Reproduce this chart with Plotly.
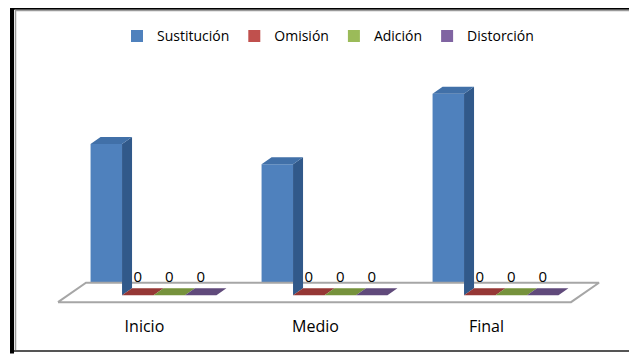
import plotly.graph_objects as go

# ---------------- data ----------------
categories = ["Inicio", "Medio", "Final"]
series_names = ["Sustitución", "Omisión", "Adición", "Distorción"]
sustitucion = [15, 13, 20]
omision = [0, 0, 0]
adicion = [0, 0, 0]
distorcion = [0, 0, 0]
series_values = [sustitucion, omision, adicion, distorcion]
show_labels = [False, True, True, True]

# ---------------- style ----------------
front_colors = ["#4F81BD", "#C0504D", "#9BBB59", "#8064A2"]
top_colors = ["#4170A8", "#953735", "#76923C", "#604A7B"]
side_colors = ["#31598A", "#7A2E2C", "#5E7530", "#4C3B62"]
FONT = "Open Sans"

W = 0.184                # bar width (x units)
DX, DY = 0.0585, 0.686   # 3-D depth offset (x units, y units)
LABEL_PAD = 0.3          # extra lift of data labels (y units)

# page body has an 8px margin -> figure is shifted by 8px
OFF = 8
W_PX, H_PX = 637 - OFF, 354 - OFF
# plot area in reference-screen pixels: x 20..617, y 60..315
PL, PR, PT, PB = 20, 617, 60, 315
ML, MR, MT, MB = PL - OFF, 637 - PR, PT - OFF, 354 - PB
PW = PR - PL
PH = PB - PT

def fx(px):
    return (px - PL) / PW

def fy(py):
    return (PB - py) / PH

cat_pos = list(range(len(categories)))
fig = go.Figure()

# floor (parallelogram)
L = cat_pos[0] - 0.5
R = cat_pos[-1] + 0.5
floor_x = [L - DX, R - DX, R + 1.8 * DX, L + 1.8 * DX, L - DX]
floor_y = [-DY, -DY, 1.8 * DY, 1.8 * DY, -DY]
fig.add_trace(go.Scatter(x=floor_x, y=floor_y, mode="lines", fill="toself",
                         fillcolor="white", line=dict(color="#A6A6A6", width=2),
                         hoverinfo="skip", showlegend=False))

# top & side faces
for s, vals in enumerate(series_values):
    tx, ty, sx, sy = [], [], [], []
    for c, v in zip(cat_pos, vals):
        x0 = c + (s - 2) * W
        x1 = x0 + W
        tx += [x0, x1, x1 + DX, x0 + DX, x0, None]
        ty += [v, v, v + DY, v + DY, v, None]
        if v > 0:
            sx += [x1, x1, x1 + DX, x1 + DX, x1, None]
            sy += [0, v, v + DY, DY, 0, None]
    if sx:
        fig.add_trace(go.Scatter(x=sx, y=sy, mode="lines", fill="toself",
                                 fillcolor=side_colors[s], line=dict(width=0),
                                 hoverinfo="skip", showlegend=False))
    fig.add_trace(go.Scatter(x=tx, y=ty, mode="lines", fill="toself",
                             fillcolor=top_colors[s], line=dict(width=0),
                             hoverinfo="skip", showlegend=False))

# data labels
for s, vals in enumerate(series_values):
    if not show_labels[s]:
        continue
    xs = [c + (s - 1.5) * W for c in cat_pos]
    fig.add_trace(go.Scatter(x=xs, y=[v + DY + LABEL_PAD for v in vals], mode="text",
                             text=[str(v) for v in vals], textposition="top center",
                             textfont=dict(family=FONT, size=15, color="#000000"),
                             hoverinfo="skip", showlegend=False))

# front faces (bars) + legend
for s, (name, vals) in enumerate(zip(series_names, series_values)):
    fig.add_trace(go.Bar(x=[c + (s - 1.5) * W for c in cat_pos], y=vals, width=W,
                         name=name, marker=dict(color=front_colors[s], line=dict(width=0))))

# outer frame (reference-screen pixels)
shapes = [
    dict(type="rect", xref="paper", yref="paper", x0=fx(10), x1=fx(14), y0=fy(354), y1=fy(2),
         fillcolor="black", line=dict(width=0)),
    dict(type="rect", xref="paper", yref="paper", x0=fx(10), x1=fx(637), y0=fy(6), y1=fy(2),
         fillcolor="black", line=dict(width=0)),
    dict(type="line", xref="paper", yref="paper", x0=fx(15.5), x1=fx(15.5), y0=fy(6), y1=fy(351),
         line=dict(color="#9A9A9A", width=1.5)),
    dict(type="line", xref="paper", yref="paper", x0=fx(15), x1=fx(637), y0=fy(7), y1=fy(7),
         line=dict(color="#9A9A9A", width=1.5)),
    dict(type="line", xref="paper", yref="paper", x0=fx(14), x1=fx(637), y0=fy(351.5), y1=fy(351.5),
         line=dict(color="#555555", width=2)),
]

fig.update_layout(
    width=W_PX, height=H_PX,
    margin=dict(l=ML, r=MR, t=MT, b=MB),
    paper_bgcolor="white", plot_bgcolor="white",
    barmode="overlay",
    shapes=shapes,
    showlegend=True,
    legend=dict(orientation="h", x=fx(328), xanchor="center", y=fy(33), yanchor="middle",
                font=dict(family=FONT, size=14, color="#000000"), itemwidth=30,
                bgcolor="rgba(0,0,0,0)"),
    xaxis=dict(range=[(PL - 153.5) / 171, (PR - 153.5) / 171],
               tickvals=[c - 0.053 for c in cat_pos], ticktext=categories,
               showgrid=False, zeroline=False, showline=False, ticks="",
               tickfont=dict(family=FONT, size=16, color="#000000"), fixedrange=True),
    yaxis=dict(range=[-(PB - 295) / 10.2, (295 - PT) / 10.2], visible=False,
               fixedrange=True),
)

fig.write_html("out.html")
